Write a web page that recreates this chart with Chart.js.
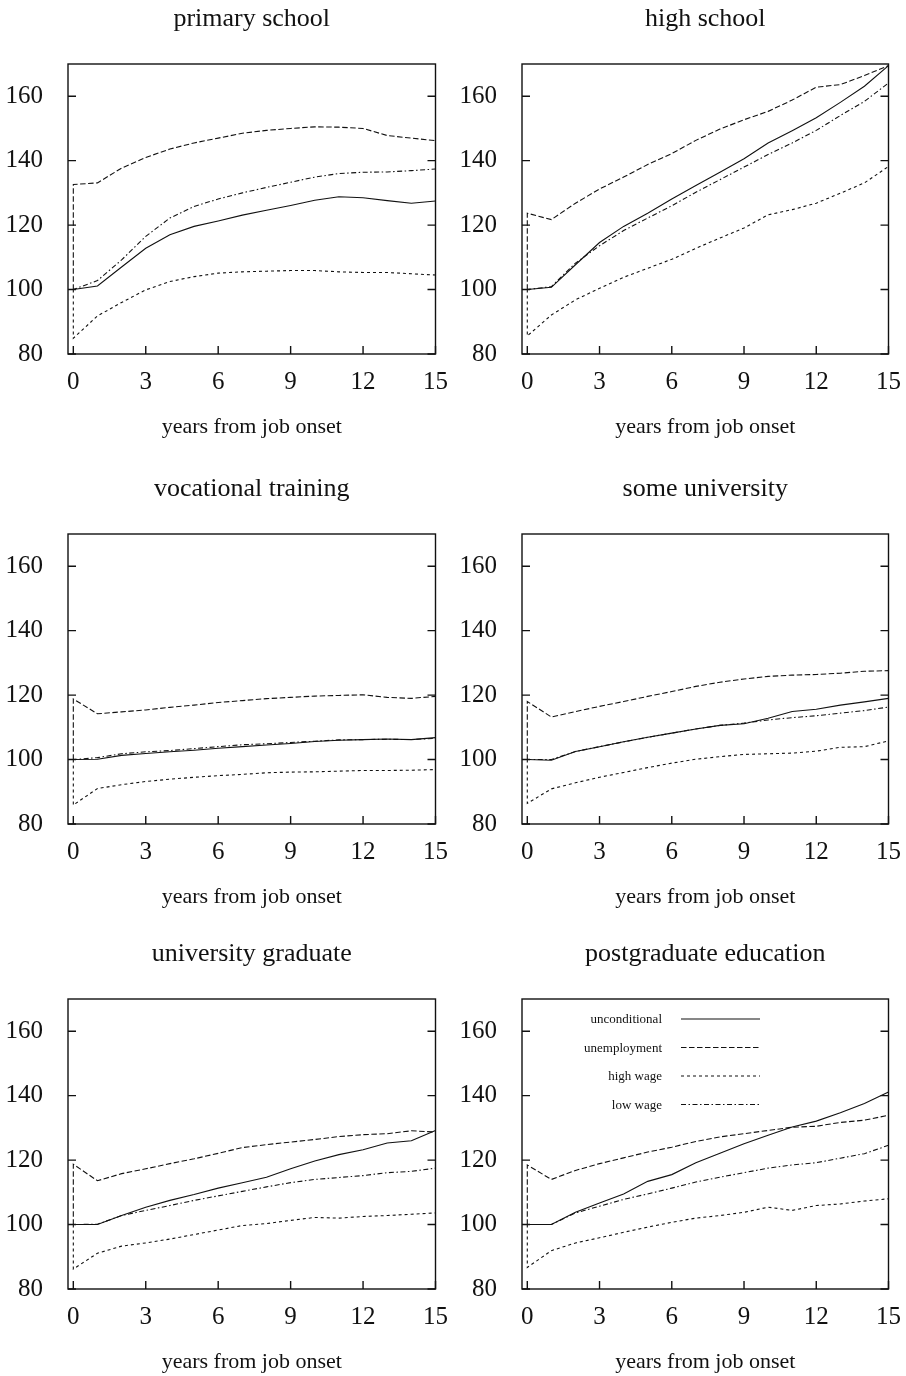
<!DOCTYPE html>
<html>
<head>
<meta charset="utf-8">
<title>wage profiles by education</title>
<script src="https://cdn.jsdelivr.net/npm/chart.js@4.4.1/dist/chart.umd.min.js"></script>
<style>
  html, body { margin: 0; padding: 0; background: #fff; overflow: hidden; }
  #page { position: relative; width: 906px; height: 1376px; }
  .panel { position: absolute; width: 453px; height: 467px; }
</style>
</head>
<body>
<div id="page"></div>
<script>
// ---------------------------------------------------------------
// data (index = 100 at job onset)
// ---------------------------------------------------------------
const YEARS = [0, 1, 2, 3, 4, 5, 6, 7, 8, 9, 10, 11, 12, 13, 14, 15];
const X_TICKS = [0, 3, 6, 9, 12, 15];
const Y_TICKS = [80, 100, 120, 140, 160];
const BASE_INDEX = 100;
const SERIES_NAMES = ['unconditional', 'unemployment', 'high wage', 'low wage'];
const PANEL_TITLES = [
  'primary school', 'high school',
  'vocational training', 'some university',
  'university graduate', 'postgraduate education',
];

const primaryUncond = [100, 101.1, 107, 112.8, 117, 119.6, 121.3, 123.1, 124.6, 126.1, 127.7, 128.8, 128.5, 127.6, 126.8, 127.5];
const primaryUnemp  = [132.6, 133.1, 137.7, 141, 143.6, 145.5, 147, 148.5, 149.4, 150, 150.5, 150.4, 150, 147.8, 147, 146.2];
const primaryHigh   = [84.9, 91.8, 96, 99.9, 102.5, 104, 105.1, 105.5, 105.7, 105.9, 105.9, 105.5, 105.3, 105.3, 104.9, 104.5];
const primaryLow    = [100, 102.8, 109.2, 116.5, 122.2, 125.8, 128.1, 130, 131.7, 133.3, 134.9, 136, 136.4, 136.5, 136.9, 137.4];

const highUncond = [100, 100.7, 107.7, 114.6, 119.6, 123.7, 128.1, 132.3, 136.4, 140.6, 145.5, 149.3, 153.3, 158.1, 163.1, 169.5];
const highUnemp  = [123.7, 121.7, 126.8, 131.2, 134.9, 138.8, 142.2, 146.3, 149.8, 152.7, 155.3, 158.8, 162.8, 163.6, 166.4, 169.5];
const highHigh   = [85.6, 92.1, 96.8, 100.4, 103.8, 106.6, 109.4, 112.8, 116, 119.1, 123.2, 124.8, 126.8, 129.9, 133.1, 138.2];
const highLow    = [100, 100.9, 108.2, 113.6, 118.3, 122.2, 126, 130.2, 134.1, 138, 141.9, 145.5, 149.4, 154, 158.4, 164.1];

const vocUncond = [100, 100.1, 101.3, 101.9, 102.4, 102.9, 103.5, 104, 104.5, 105, 105.6, 106, 106.2, 106.4, 106.2, 106.8];
const vocUnemp  = [118.8, 114.2, 114.8, 115.4, 116.2, 116.9, 117.7, 118.3, 118.9, 119.3, 119.7, 119.9, 120.1, 119.3, 119, 119.6];
const vocHigh   = [85.9, 91, 92.2, 93.2, 93.9, 94.5, 95, 95.4, 95.9, 96.1, 96.2, 96.4, 96.6, 96.6, 96.7, 96.9];
const vocLow    = [100, 100.6, 101.8, 102.4, 102.8, 103.4, 104, 104.6, 104.9, 105.3, 105.7, 106.1, 106.2, 106.3, 106.2, 106.6];

const someUniUncond = [100, 99.8, 102.5, 104, 105.5, 106.9, 108.2, 109.5, 110.6, 111.1, 112.8, 114.9, 115.6, 116.9, 117.9, 119];
const someUniUnemp  = [118, 113.2, 114.9, 116.5, 118, 119.6, 121.1, 122.7, 124, 125, 125.8, 126.2, 126.4, 126.8, 127.4, 127.6];
const someUniHigh   = [86.4, 90.9, 92.8, 94.5, 96, 97.5, 98.9, 100.1, 100.9, 101.6, 101.8, 102, 102.6, 103.8, 104, 105.8];
const someUniLow    = [100, 100, 102.5, 104, 105.5, 106.9, 108.2, 109.5, 110.6, 111.3, 112.3, 113, 113.6, 114.4, 115.2, 116.3];

const gradUncond = [100, 100, 102.8, 105.4, 107.5, 109.3, 111.3, 113, 114.7, 117.3, 119.7, 121.7, 123.2, 125.3, 126, 129.2];
const gradUnemp  = [118.7, 113.6, 115.8, 117.3, 118.9, 120.4, 122.1, 123.9, 124.8, 125.6, 126.4, 127.3, 127.9, 128.2, 129.1, 128.7];
const gradHigh   = [86.2, 91.1, 93.3, 94.3, 95.5, 96.9, 98.3, 99.7, 100.3, 101.3, 102.2, 102, 102.5, 102.8, 103.2, 103.6];
const gradLow    = [100, 100.1, 102.8, 104.4, 105.9, 107.5, 108.9, 110.3, 111.7, 113, 114, 114.6, 115.2, 116.1, 116.5, 117.5];

const postUncond = [100, 100, 103.8, 106.7, 109.5, 113.4, 115.5, 119.2, 122.1, 125.1, 127.7, 130.3, 132.1, 134.7, 137.6, 141.1];
const postUnemp  = [118.5, 114, 116.8, 118.9, 120.7, 122.5, 124, 125.8, 127.2, 128.2, 129.2, 130.2, 130.5, 131.7, 132.4, 133.9];
const postHigh   = [86.7, 91.9, 94.3, 95.9, 97.6, 99.2, 100.7, 102, 102.8, 103.8, 105.4, 104.4, 105.9, 106.4, 107.3, 108];
const postLow    = [100, 100, 103.6, 105.7, 107.8, 109.5, 111.3, 113.2, 114.7, 116.1, 117.5, 118.5, 119.2, 120.6, 122, 124.6];

const PANEL_SERIES = [
  [primaryUncond, primaryUnemp, primaryHigh, primaryLow],
  [highUncond, highUnemp, highHigh, highLow],
  [vocUncond, vocUnemp, vocHigh, vocLow],
  [someUniUncond, someUniUnemp, someUniHigh, someUniLow],
  [gradUncond, gradUnemp, gradHigh, gradLow],
  [postUncond, postUnemp, postHigh, postLow],
];

// ---------------------------------------------------------------
// style
// ---------------------------------------------------------------
const FONT = '"Liberation Serif", "Times New Roman", serif';
const INK = '#111';
const DASHES = [[], [5.5, 2.5], [3, 3], [5, 2.5, 1.5, 2.5]];
const TICK_LEN = 8;
const ROW_TOPS = [0, 470, 935];
const COL_LEFTS = [0, 453];

// box + inward ticks (bottom, left, right)
const framePlugin = {
  id: 'frame',
  afterDatasetsDraw(chart) {
    const { ctx, chartArea: a, scales: { x, y } } = chart;
    ctx.save();
    ctx.strokeStyle = INK;
    ctx.lineWidth = 1.4;
    ctx.strokeRect(a.left, a.top, a.right - a.left, a.bottom - a.top);
    ctx.beginPath();
    X_TICKS.forEach((v) => {
      const px = x.getPixelForValue(v);
      ctx.moveTo(px, a.bottom);
      ctx.lineTo(px, a.bottom - TICK_LEN);
    });
    Y_TICKS.forEach((v) => {
      const py = y.getPixelForValue(v);
      ctx.moveTo(a.left, py);
      ctx.lineTo(a.left + TICK_LEN, py);
      ctx.moveTo(a.right, py);
      ctx.lineTo(a.right - TICK_LEN, py);
    });
    ctx.stroke();
    ctx.restore();
  },
};

// legend drawn inside the last panel, labels right-aligned, sample to the right
const cornerLegend = {
  id: 'cornerLegend',
  afterDraw(chart) {
    const { ctx, chartArea: a } = chart;
    ctx.save();
    ctx.font = `13px ${FONT}`;
    ctx.fillStyle = INK;
    ctx.textAlign = 'right';
    ctx.textBaseline = 'middle';
    chart.data.datasets.forEach((ds, i) => {
      const yy = a.top + 20 + i * 28.5;
      ctx.fillText(ds.label, a.left + 140, yy + 1);
      ctx.setLineDash(ds.borderDash);
      ctx.lineWidth = ds.borderWidth;
      ctx.strokeStyle = ds.borderColor;
      ctx.beginPath();
      ctx.moveTo(a.left + 159, yy);
      ctx.lineTo(a.left + 238, yy);
      ctx.stroke();
    });
    ctx.restore();
  },
};

function toPoints(values) {
  // flat at the base index before onset, then jump to the year-0 value
  const pts = [{ x: -1, y: BASE_INDEX }, { x: 0, y: BASE_INDEX }];
  YEARS.forEach((yr, i) => pts.push({ x: yr, y: values[i] }));
  return pts;
}

function buildPanel(idx) {
  const row = Math.floor(idx / 2);
  const col = idx % 2;

  const div = document.createElement('div');
  div.className = 'panel';
  div.style.left = COL_LEFTS[col] + 'px';
  div.style.top = ROW_TOPS[row] + 'px';
  const canvas = document.createElement('canvas');
  div.appendChild(canvas);
  document.getElementById('page').appendChild(div);

  const datasets = PANEL_SERIES[idx].map((values, s) => ({
    label: SERIES_NAMES[s],
    data: toPoints(values),
    borderColor: INK,
    borderWidth: 1.1,
    borderDash: DASHES[s],
    pointRadius: 0,
    tension: 0,
    fill: false,
  }));

  const plugins = [framePlugin];
  if (idx === PANEL_TITLES.length - 1) plugins.push(cornerLegend);

  new Chart(canvas, {
    type: 'line',
    data: { datasets },
    plugins,
    options: {
      responsive: true,
      maintainAspectRatio: false,
      animation: false,
      events: [],
      layout: { padding: { left: 0, right: col === 0 ? 14 : 12, top: 0, bottom: 0 } },
      plugins: {
        legend: { display: false },
        tooltip: { enabled: false },
        title: {
          display: true,
          fullSize: false,
          text: PANEL_TITLES[idx],
          color: INK,
          font: { family: FONT, size: 26, weight: 'normal' },
          padding: { top: 4, bottom: 28.8 },
        },
      },
      scales: {
        x: {
          type: 'linear',
          min: -0.22,
          max: 15,
          grid: { display: false },
          border: { display: false },
          ticks: {
            color: INK,
            padding: 5,
            font: { family: FONT, size: 25 },
            maxRotation: 0,
          },
          afterBuildTicks: (scale) => { scale.ticks = X_TICKS.map((v) => ({ value: v })); },
          afterFit: (scale) => { scale.height = 113; },
          title: {
            display: true,
            text: 'years from job onset',
            color: INK,
            font: { family: FONT, size: 22 },
            padding: { top: 0, bottom: 26.8 },
          },
        },
        y: {
          type: 'linear',
          min: 80,
          max: 170,
          grid: { display: false },
          border: { display: false },
          ticks: {
            color: INK,
            padding: 17,
            font: { family: FONT, size: 25 },
          },
          afterBuildTicks: (scale) => { scale.ticks = Y_TICKS.map((v) => ({ value: v })); },
          afterFit: (scale) => { scale.width = col === 0 ? 68 : 69; },
        },
      },
    },
  });
}

PANEL_TITLES.forEach((_, i) => buildPanel(i));
</script>
</body>
</html>
